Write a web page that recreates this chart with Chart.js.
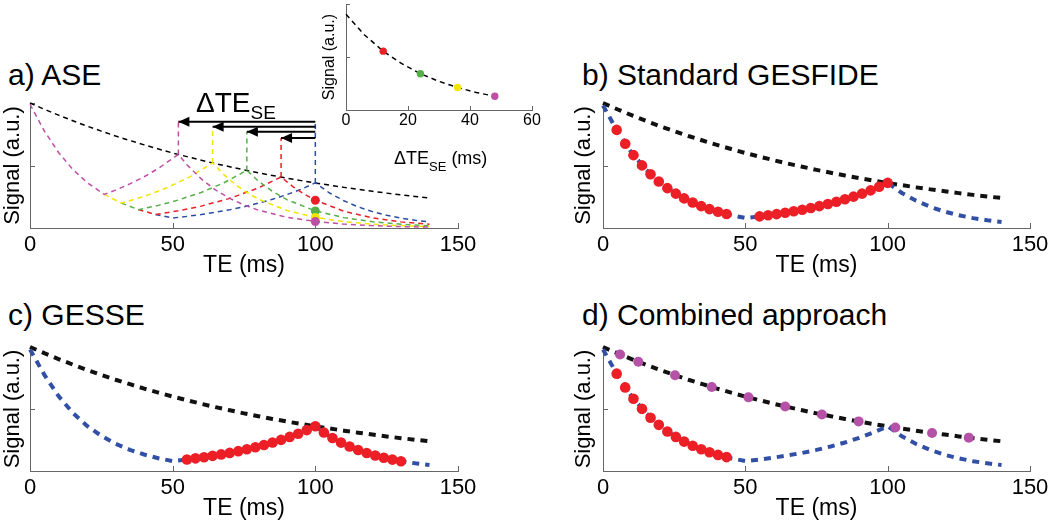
<!DOCTYPE html>
<html>
<head>
<meta charset="utf-8">
<script src="https://cdn.jsdelivr.net/npm/chart.js@4.4.1/dist/chart.umd.min.js"></script>
<style>
  body { margin: 0; background: #fff; width: 1050px; height: 522px; position: relative; overflow: hidden;
         font-family: "Liberation Sans", Arial, sans-serif; }
  canvas { position: absolute; }
  .lbl { position: absolute; white-space: nowrap; color: #000; line-height: 1; }
  .sub { position: relative; }
</style>
</head>
<body>
<canvas id="chartA" width="500" height="184" style="left:0;top:95px"></canvas>
<canvas id="chartB" width="489" height="184" style="left:571px;top:95px"></canvas>
<canvas id="chartC" width="500" height="183" style="left:0;top:339px"></canvas>
<canvas id="chartD" width="489" height="183" style="left:571px;top:339px"></canvas>
<canvas id="inset" width="234" height="135" style="left:318px;top:0"></canvas>

<div class="lbl" style="left:8px;top:60px;font-size:30px">a) ASE</div>
<div class="lbl" style="left:582px;top:60px;font-size:30px">b) Standard GESFIDE</div>
<div class="lbl" style="left:8px;top:300px;font-size:30px">c) GESSE</div>
<div class="lbl" style="left:582px;top:300px;font-size:30px">d) Combined approach</div>
<div class="lbl" style="left:196px;top:89px;font-size:28px">ΔTE<span class="sub" style="font-size:19px;top:7px">SE</span></div>
<div class="lbl" style="left:394px;top:149px;font-size:18px">ΔTE<span class="sub" style="font-size:13px;top:7px">SE</span> (ms)</div>

<script>
const FONT = '"Liberation Sans", Arial, sans-serif';

// axes
const xTicks = [0, 50, 100, 150];
const yTicks = [0, 0.5, 1];
const insetXTicks = [0, 20, 40, 60];
const insetYTicks = [0, 0.2, 0.4];

// black T2 decay and blue GESFIDE/GESSE signal, every 5 ms
const teGrid = [0, 5, 10, 15, 20, 25, 30, 35, 40, 45, 50, 55, 60, 65, 70, 75, 80, 85, 90, 95, 100, 105, 110, 115, 120, 125, 130, 135, 140];
const t2Signal = [1.000, 0.950, 0.903, 0.858, 0.815, 0.775, 0.736, 0.700, 0.665, 0.632, 0.600, 0.571, 0.542, 0.515, 0.490,
                  0.465, 0.442, 0.420, 0.399, 0.379, 0.360, 0.343, 0.325, 0.309, 0.294, 0.279, 0.265, 0.252, 0.240];
const geSignal = [0.980, 0.777, 0.604, 0.469, 0.364, 0.283, 0.220, 0.171, 0.133, 0.103, 0.080, 0.093, 0.108, 0.126, 0.146,
                  0.170, 0.198, 0.230, 0.267, 0.310, 0.361, 0.280, 0.218, 0.169, 0.131, 0.102, 0.079, 0.062, 0.048];

// a) ASE curves, one per refocusing shift
const aseMagTE = [0, 5, 10, 15, 20, 26, 30, 35, 40, 45, 52, 55, 60, 65, 70, 75, 80, 90, 100, 110, 120, 130, 140];
const aseMagS  = [0.99, 0.777, 0.604, 0.469, 0.364, 0.269, 0.303, 0.353, 0.410, 0.477, 0.589, 0.506, 0.393, 0.305, 0.237, 0.184, 0.143, 0.086, 0.052, 0.031, 0.019, 0.011, 0.007];
const aseYelTE = [26, 32, 40, 48, 56, 64, 68, 72, 76, 80, 90, 100, 110, 120, 130, 140];
const aseYelS  = [0.269, 0.199, 0.253, 0.322, 0.409, 0.521, 0.425, 0.347, 0.284, 0.232, 0.140, 0.085, 0.051, 0.031, 0.019, 0.011];
const aseGrnTE = [32, 38, 45, 52, 60, 68, 76, 80, 85, 90, 100, 110, 120, 130, 140];
const aseGrnS  = [0.199, 0.147, 0.181, 0.224, 0.284, 0.362, 0.461, 0.376, 0.292, 0.227, 0.137, 0.083, 0.050, 0.030, 0.018];
const aseRedTE = [38, 44, 52, 60, 70, 80, 88, 92, 96, 100, 110, 120, 130, 140];
const aseRedS  = [0.147, 0.108, 0.138, 0.175, 0.237, 0.320, 0.408, 0.333, 0.272, 0.222, 0.134, 0.081, 0.049, 0.030];
const aseBluTE = [44, 50, 55, 60, 65, 70, 75, 80, 85, 90, 95, 100, 105, 110, 115, 120, 125, 130, 135, 140];
const aseBluS  = [0.108, 0.080, 0.093, 0.108, 0.126, 0.146, 0.170, 0.198, 0.230, 0.267, 0.310, 0.361, 0.280, 0.218, 0.169, 0.131, 0.102, 0.079, 0.062, 0.048];

// echo peaks (magenta, yellow, green, red, blue) and the arrow levels above them
const asePeakTE = [52, 64, 76, 88, 100];
const asePeakS  = [0.589, 0.521, 0.461, 0.408, 0.361];
const aseArrowY = [0.85, 0.81, 0.77, 0.72, 0.86];
const aseColors = ['#bd4fa5', '#f2e500', '#55b047', '#ec1f27', '#2c4ca4'];

// signal sampled at TE = 100 ms for each shift (red, green, yellow, magenta)
const aseEchoTE = [100, 100, 100, 100];
const aseEchoS  = [0.222, 0.137, 0.085, 0.052];
const aseEchoColors = ['#ec1f27', '#55b047', '#f2e500', '#bd4fa5'];

// inset: signal vs ΔTE_SE
const insetDTE = [0, 6, 12, 18, 24, 30, 36, 42, 48];
const insetS   = [0.361, 0.283, 0.222, 0.175, 0.137, 0.108, 0.085, 0.066, 0.052];
const insetDotDTE = [12, 24, 36, 48];
const insetDotS   = [0.222, 0.137, 0.085, 0.052];

// b) GESFIDE echoes
const fidTE = [4.8, 7.8, 10.7, 13.7, 16.7, 19.6, 22.6, 25.6, 28.5, 31.5, 34.5, 37.4, 40.4, 43.4];
const fidS  = [0.785, 0.674, 0.583, 0.501, 0.430, 0.372, 0.319, 0.275, 0.237, 0.204, 0.175, 0.151, 0.130, 0.112];
const riseTE = [55, 58, 61, 64, 67, 70, 73, 76, 79, 82, 85, 88, 91, 94, 97, 100];
const riseS  = [0.093, 0.102, 0.111, 0.122, 0.134, 0.146, 0.160, 0.175, 0.192, 0.210, 0.230, 0.251, 0.275, 0.301, 0.330, 0.361];

// c) GESSE echoes after the peak
const fallTE = [103, 106, 109, 112, 115, 118, 121, 124, 127, 130];
const fallS  = [0.310, 0.266, 0.229, 0.197, 0.169, 0.145, 0.125, 0.107, 0.092, 0.079];

// d) spin-echo train
const seTE = [6, 12.4, 25.3, 38.2, 51.1, 64, 76.9, 89.8, 102.7, 115.6, 128.5];
const seS  = [0.940, 0.881, 0.772, 0.677, 0.594, 0.520, 0.456, 0.400, 0.351, 0.307, 0.269];

const RED = '#ec1f27', BLUE = '#3150a5', BLACK = '#111', PURPLE = '#b551a6';

const pts = (xs, ys) => xs.map((x, i) => ({ x, y: ys[i] }));
const curve = (xs, ys, color, width, dash) => ({
  data: pts(xs, ys), borderColor: color, borderWidth: width, borderDash: dash,
  borderCapStyle: 'butt', pointRadius: 0, tension: 0, fill: false, clip: false
});
const dots = (xs, ys, color, r) => ({
  data: pts(xs, ys), showLine: false, pointRadius: r, pointBackgroundColor: color,
  pointBorderWidth: 0, clip: false
});

// tick marks pointing into the plot, MATLAB style
const innerTicks = {
  id: 'innerTicks',
  beforeDatasetsDraw(chart, args, opts) {
    const { ctx, chartArea: a, scales: { x, y } } = chart;
    ctx.save();
    ctx.strokeStyle = '#666';
    ctx.lineWidth = 1;
    ctx.beginPath();
    x.ticks.forEach(t => {
      const px = Math.round(x.getPixelForValue(t.value)) + 0.5;
      ctx.moveTo(px, a.bottom); ctx.lineTo(px, a.bottom - opts.len);
    });
    y.ticks.forEach(t => {
      const py = Math.round(y.getPixelForValue(t.value)) + 0.5;
      ctx.moveTo(a.left, py); ctx.lineTo(a.left + opts.len, py);
    });
    ctx.stroke();
    ctx.restore();
  }
};

// filled head at the last point of datasets flagged with arrow
const arrowHeads = {
  id: 'arrowHeads',
  afterDatasetsDraw(chart) {
    const ctx = chart.ctx;
    chart.data.datasets.forEach((ds, i) => {
      if (!ds.arrow) return;
      const p = chart.getDatasetMeta(i).data;
      const tip = p[p.length - 1];
      ctx.save();
      ctx.fillStyle = '#000';
      ctx.beginPath();
      ctx.moveTo(tip.x, tip.y);
      ctx.lineTo(tip.x + 11, tip.y - 5);
      ctx.lineTo(tip.x + 11, tip.y + 5);
      ctx.closePath();
      ctx.fill();
      ctx.restore();
    });
  }
};

function panel(id, datasets, c) {
  return new Chart(document.getElementById(id), {
    type: 'line',
    data: { datasets },
    options: {
      responsive: false,
      animation: false,
      events: [],
      layout: { padding: { top: c.padTop, right: c.padRight, left: 0, bottom: 0 } },
      plugins: { legend: { display: false }, tooltip: { enabled: false }, innerTicks: { len: c.tickLen } },
      scales: {
        x: {
          type: 'linear', min: c.xTicks[0], max: c.xTicks[c.xTicks.length - 1],
          afterBuildTicks: s => { s.ticks = c.xTicks.map(v => ({ value: v })); },
          grid: { display: false, drawTicks: false },
          border: { display: true, color: '#666', width: 1 },
          ticks: { color: '#000', font: { family: FONT, size: c.tickSize, lineHeight: 1 }, padding: c.tickPad,
                   maxRotation: 0, autoSkip: false },
          title: { display: !!c.xTitle, text: c.xTitle, color: '#000',
                   font: { family: FONT, size: 23, lineHeight: 1 }, padding: { top: 0, bottom: 2 } },
          afterFit: s => { s.height = c.xHeight; }
        },
        y: {
          type: 'linear', min: c.yTicks[0], max: c.yTicks[c.yTicks.length - 1],
          afterBuildTicks: s => { s.ticks = c.yTicks.map(v => ({ value: v })); },
          grid: { display: false, drawTicks: false },
          border: { display: true, color: '#666', width: 1 },
          ticks: { display: false },
          title: { display: true, text: 'Signal (a.u.)', color: '#000',
                   font: { family: FONT, size: c.yTitleSize, lineHeight: 1 }, padding: { top: c.yTitlePad, bottom: 0 } },
          afterFit: s => { s.width = c.yWidth; }
        }
      }
    },
    plugins: [innerTicks, arrowHeads]
  });
}

const mainCfg = (yWidth, padRight, padTop, xHeight) => ({
  xTicks, yTicks, yWidth, padRight, padTop, xHeight, tickLen: 5, tickSize: 22, tickPad: 6,
  xTitle: 'TE (ms)', yTitleSize: 22, yTitlePad: 2
});

// a) ASE
const thin = [5, 4];
const aseSets = [
  dots(aseEchoTE, aseEchoS, aseEchoColors, 4.5)
];
for (let i = 0; i < 4; i++) {
  aseSets.push(Object.assign(curve([100, asePeakTE[i]], [aseArrowY[i], aseArrowY[i]], '#000', 2.2, []), { arrow: true }));
}
for (let i = 0; i < 5; i++) {
  aseSets.push(curve([asePeakTE[i], asePeakTE[i]], [asePeakS[i], aseArrowY[i]], aseColors[i], 1.5, thin));
}
aseSets.push(
  curve(aseMagTE, aseMagS, aseColors[0], 1.5, thin),
  curve(aseYelTE, aseYelS, aseColors[1], 1.5, thin),
  curve(aseGrnTE, aseGrnS, aseColors[2], 1.5, thin),
  curve(aseRedTE, aseRedS, aseColors[3], 1.5, thin),
  curve(aseBluTE, aseBluS, aseColors[4], 1.5, thin),
  curve(teGrid, t2Signal, '#000', 1.5, thin)
);
panel('chartA', aseSets, mainCfg(30, 42, 8, 51));

// b) Standard GESFIDE
const thick = [7, 6];
panel('chartB', [
  dots(fidTE, fidS, RED, 5.3),
  dots(riseTE, riseS, RED, 5.3),
  curve(teGrid, geSignal, BLUE, 4, thick),
  curve(teGrid, t2Signal, BLACK, 4, thick)
], mainCfg(32, 30, 8, 51));

// c) GESSE
panel('chartC', [
  dots(riseTE, riseS, RED, 5.3),
  dots(fallTE, fallS, RED, 5.3),
  curve(teGrid, geSignal, BLUE, 4, thick),
  curve(teGrid, t2Signal, BLACK, 4, thick)
], mainCfg(30, 42, 8, 51));

// d) Combined approach
panel('chartD', [
  dots(seTE, seS, PURPLE, 5),
  dots(fidTE, fidS, RED, 5.3),
  curve(teGrid, geSignal, BLUE, 4, thick),
  curve(teGrid, t2Signal, BLACK, 4, thick)
], mainCfg(32, 30, 8, 51));

// inset
panel('inset', [
  dots(insetDotDTE, insetDotS, aseEchoColors, 3.7),
  curve(insetDTE, insetS, '#000', 1.5, thin)
], {
  xTicks: insetXTicks, yTicks: insetYTicks, yWidth: 28, padRight: 20, padTop: 0, xHeight: 25,
  tickLen: 4, tickSize: 16, tickPad: 3, xTitle: '', yTitleSize: 16, yTitlePad: 4
});
</script>
</body>
</html>
